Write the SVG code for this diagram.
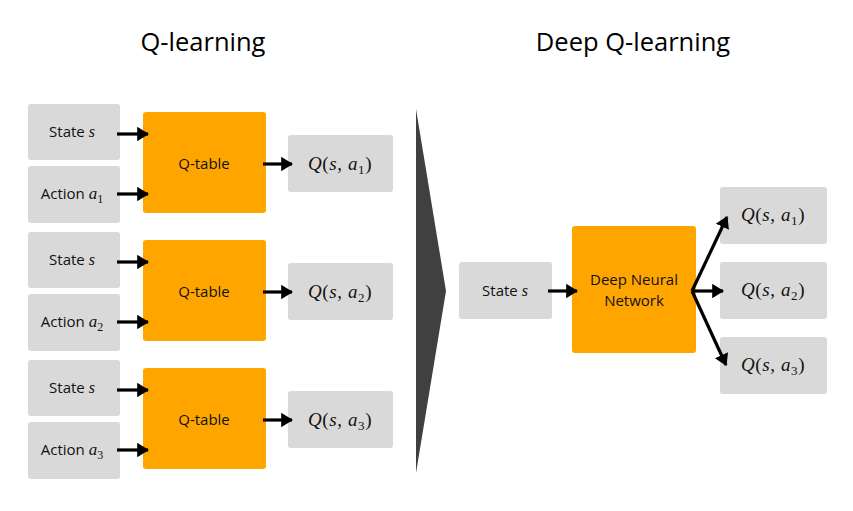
<svg xmlns="http://www.w3.org/2000/svg" width="853" height="511" viewBox="0 0 853 511">
<defs>
<marker id="ah" viewBox="0 0 10 12" refX="9" refY="6" markerWidth="3.8" markerHeight="4.5" orient="auto" markerUnits="strokeWidth">
<path d="M0,0 L10,6 L0,12 Z" fill="#000"/>
</marker>
</defs>
<style>
.gray{fill:#d9d9d9}
.orange{fill:#ffa500}
.lbl{font-family:"Open Sans","Liberation Sans",sans-serif;font-size:15px;fill:#111;text-anchor:middle}
.title{font-family:"Open Sans","Liberation Sans",sans-serif;font-size:25.5px;fill:#000;text-anchor:middle}
.m{font-family:"Liberation Serif","DejaVu Serif",serif;font-style:italic}
.mu{font-family:"Liberation Serif","DejaVu Serif",serif;font-style:normal}
.math{font-size:19px;fill:#111;text-anchor:middle;letter-spacing:0.6px}
.conn line{stroke:#000;stroke-width:3.2;marker-end:url(#ah)}
</style>
<rect width="853" height="511" fill="#fff"/>
<text class="title" x="203" y="51">Q-learning</text>
<text class="title" x="633" y="51">Deep Q-learning</text>
<polygon id="divider" points="416,109 446,291 416,473" fill="#404040"/>

<g id="state1"><rect class="gray" x="28" y="104" width="92" height="56" rx="3"/><text class="lbl" x="72" y="137">State <tspan class="m" font-size="16">s</tspan></text></g>
<g id="action1"><rect class="gray" x="28" y="166" width="92" height="57" rx="3"/><text class="lbl" x="72" y="199">Action <tspan class="m" font-size="17">a</tspan><tspan class="mu" font-size="12" dy="4">1</tspan></text></g>
<g id="qtable1"><rect class="orange" x="143" y="112" width="123" height="101" rx="3"/><text class="lbl" x="204" y="169">Q-table</text></g>
<g id="q1"><rect class="gray" x="288" y="135" width="105" height="57" rx="3"/><text class="math" x="340" y="170"><tspan class="m">Q</tspan><tspan class="mu">(</tspan><tspan class="m">s</tspan><tspan class="mu">, </tspan><tspan class="m">a</tspan><tspan class="mu" font-size="13" dy="4">1</tspan><tspan class="mu" dy="-4">)</tspan></text></g>

<g id="state2"><rect class="gray" x="28" y="232" width="92" height="56" rx="3"/><text class="lbl" x="72" y="265">State <tspan class="m" font-size="16">s</tspan></text></g>
<g id="action2"><rect class="gray" x="28" y="294" width="92" height="57" rx="3"/><text class="lbl" x="72" y="327">Action <tspan class="m" font-size="17">a</tspan><tspan class="mu" font-size="12" dy="4">2</tspan></text></g>
<g id="qtable2"><rect class="orange" x="143" y="240" width="123" height="101" rx="3"/><text class="lbl" x="204" y="297">Q-table</text></g>
<g id="q2"><rect class="gray" x="288" y="263" width="105" height="57" rx="3"/><text class="math" x="340" y="298"><tspan class="m">Q</tspan><tspan class="mu">(</tspan><tspan class="m">s</tspan><tspan class="mu">, </tspan><tspan class="m">a</tspan><tspan class="mu" font-size="13" dy="4">2</tspan><tspan class="mu" dy="-4">)</tspan></text></g>

<g id="state3"><rect class="gray" x="28" y="360" width="92" height="56" rx="3"/><text class="lbl" x="72" y="393">State <tspan class="m" font-size="16">s</tspan></text></g>
<g id="action3"><rect class="gray" x="28" y="422" width="92" height="57" rx="3"/><text class="lbl" x="72" y="455">Action <tspan class="m" font-size="17">a</tspan><tspan class="mu" font-size="12" dy="4">3</tspan></text></g>
<g id="qtable3"><rect class="orange" x="143" y="368" width="123" height="101" rx="3"/><text class="lbl" x="204" y="425">Q-table</text></g>
<g id="q3"><rect class="gray" x="288" y="391" width="105" height="57" rx="3"/><text class="math" x="340" y="426"><tspan class="m">Q</tspan><tspan class="mu">(</tspan><tspan class="m">s</tspan><tspan class="mu">, </tspan><tspan class="m">a</tspan><tspan class="mu" font-size="13" dy="4">3</tspan><tspan class="mu" dy="-4">)</tspan></text></g>

<g id="stateD"><rect class="gray" x="459" y="262" width="93" height="57" rx="3"/><text class="lbl" x="505" y="296">State <tspan class="m" font-size="16">s</tspan></text></g>
<g id="dnn"><rect class="orange" x="572" y="226" width="124" height="127" rx="3"/><text class="lbl" x="634" y="285">Deep Neural</text><text class="lbl" x="634" y="306">Network</text></g>
<g id="qd1"><rect class="gray" x="720" y="187" width="107" height="57" rx="3"/><text class="math" x="773" y="221"><tspan class="m">Q</tspan><tspan class="mu">(</tspan><tspan class="m">s</tspan><tspan class="mu">, </tspan><tspan class="m">a</tspan><tspan class="mu" font-size="13" dy="4">1</tspan><tspan class="mu" dy="-4">)</tspan></text></g>
<g id="qd2"><rect class="gray" x="720" y="262" width="107" height="57" rx="3"/><text class="math" x="773" y="296"><tspan class="m">Q</tspan><tspan class="mu">(</tspan><tspan class="m">s</tspan><tspan class="mu">, </tspan><tspan class="m">a</tspan><tspan class="mu" font-size="13" dy="4">2</tspan><tspan class="mu" dy="-4">)</tspan></text></g>
<g id="qd3"><rect class="gray" x="720" y="337" width="107" height="57" rx="3"/><text class="math" x="773" y="371"><tspan class="m">Q</tspan><tspan class="mu">(</tspan><tspan class="m">s</tspan><tspan class="mu">, </tspan><tspan class="m">a</tspan><tspan class="mu" font-size="13" dy="4">3</tspan><tspan class="mu" dy="-4">)</tspan></text></g>

<g id="connectors" class="conn">
<line x1="117" y1="134" x2="148" y2="134"/>
<line x1="117" y1="194" x2="148" y2="194"/>
<line x1="263" y1="164" x2="292" y2="164"/>
<line x1="117" y1="262" x2="148" y2="262"/>
<line x1="117" y1="322" x2="148" y2="322"/>
<line x1="263" y1="292" x2="292" y2="292"/>
<line x1="117" y1="390" x2="148" y2="390"/>
<line x1="117" y1="450" x2="148" y2="450"/>
<line x1="263" y1="420" x2="292" y2="420"/>
<line x1="548" y1="291" x2="577" y2="291"/>
<line x1="692" y1="291" x2="727" y2="217"/>
<line x1="692" y1="291" x2="723" y2="291"/>
<line x1="692" y1="291" x2="726" y2="365"/>
</g>
</svg>
